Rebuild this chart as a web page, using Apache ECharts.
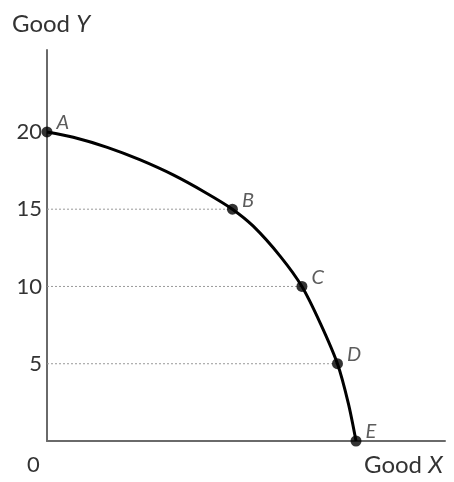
<!DOCTYPE html>
<html>
<head>
<meta charset="utf-8">
<script src="https://cdn.jsdelivr.net/npm/echarts@6/dist/echarts.min.js"></script>
<style>html,body{margin:0;padding:0;background:#fff;}#c{width:454px;height:482px;}</style>
</head>
<body>
<div id="c"></div>
<script>
// Labelled points on the frontier
var pointNames = ['A', 'B', 'C', 'D', 'E'];
var goodX = [0, 12, 16.5, 18.8, 20];
var goodY = [20, 15, 10, 5, 0];
// Frontier curve points
var curveX = [0, 1.7, 3.9, 6.0, 8.2, 10.3, 12.0, 13.35, 15.1, 16.5, 17.7, 18.8, 19.5, 20];
var curveY = [20, 19.65, 19.0, 18.2, 17.2, 16.05, 15.0, 13.9, 11.95, 10.0, 7.6, 5.0, 2.45, 0];
// Y tick labels shown
var yTicks = [5, 10, 15, 20];

var chart = echarts.init(document.getElementById('c'));
var curve = curveX.map(function (x, i) { return [x, curveY[i]]; });
var pts = goodX.map(function (x, i) { return [x, goodY[i], pointNames[i]]; });
var guides = [];
for (var i = 1; i < 4; i++) {
  guides.push({
    type: 'line', silent: true, symbol: 'none', z: 1,
    data: [[0, goodY[i]], [goodX[i], goodY[i]]],
    lineStyle: { color: '#9a9a9a', width: 1, type: [2, 2] }
  });
}
var font = 'Lato, sans-serif';
chart.setOption({
  animation: false,
  grid: { left: 47, right: 9, top: 50, bottom: 41 },
  xAxis: {
    type: 'value', min: 0, max: 25.76,
    axisLine: { show: true, lineStyle: { color: '#6a6a6a', width: 2 } },
    axisTick: { show: false }, axisLabel: { show: false }, splitLine: { show: false }
  },
  yAxis: {
    type: 'value', min: 0, max: 25.3, interval: 5,
    axisLine: { show: true, lineStyle: { color: '#6a6a6a', width: 2 } },
    axisTick: { show: false }, splitLine: { show: false },
    axisLabel: {
      margin: 5, color: '#333', fontSize: 22, fontFamily: font,
      formatter: function (v) { return yTicks.indexOf(v) >= 0 ? String(v) : ''; }
    }
  },
  series: guides.concat([
    {
      type: 'line', smooth: 0.3, symbol: 'none', z: 3,
      data: curve,
      lineStyle: { color: '#000', width: 3 }
    },
    {
      type: 'scatter', z: 5, symbolSize: 11,
      itemStyle: { color: '#000' },
      data: pts,
      label: {
        show: true, position: 'right', distance: 4, offset: [0, -9],
        formatter: function (p) { return p.data[2]; },
        fontStyle: 'italic', fontSize: 20, color: '#333', fontFamily: font
      }
    }
  ]),
  graphic: [
    { type: 'text', left: 12, top: 12, style: { rich: { n: { fontSize: 24, fill: '#333', fontFamily: font }, i: { fontSize: 24, fill: '#333', fontStyle: 'italic', fontFamily: font } }, text: '{n|Good }{i|Y}' } },
    { type: 'text', left: 364, top: 453, style: { rich: { n: { fontSize: 24, fill: '#333', fontFamily: font }, i: { fontSize: 24, fill: '#333', fontStyle: 'italic', fontFamily: font } }, text: '{n|Good }{i|X}' } },
    { type: 'text', left: 27, top: 454, style: { text: '0', fontSize: 22, fill: '#333', fontFamily: font } }
  ]
});
</script>
</body>
</html>
